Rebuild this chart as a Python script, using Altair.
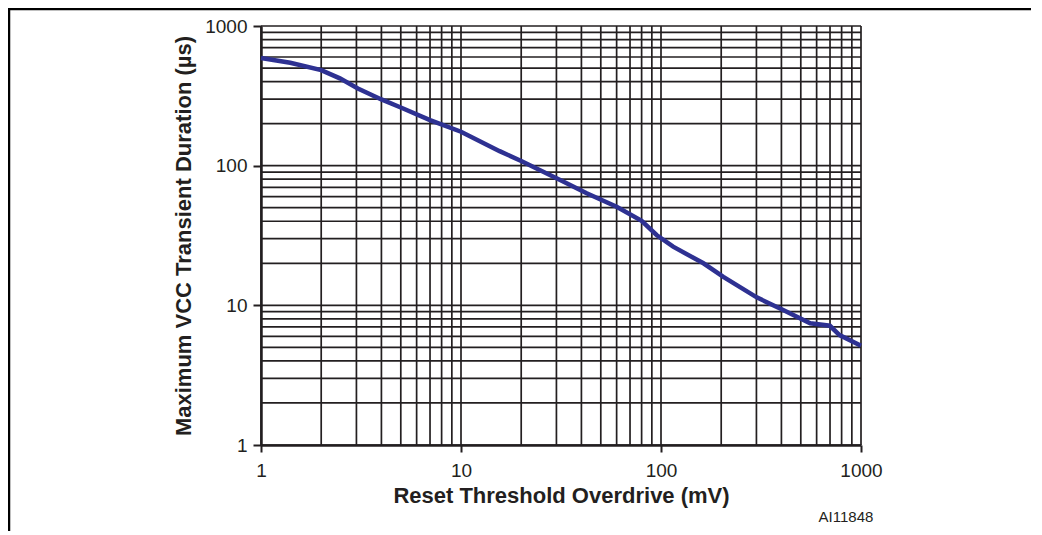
import altair as alt
import pandas as pd

# Curve values (log-log)
overdrive_mv = [1, 1.4, 2, 2.48, 3.05, 4, 5, 7, 10, 15.6, 20, 31.3, 42.5, 60, 80,
                95, 115, 163, 205, 301, 394, 557, 699, 781, 1000]
duration_us = [590, 545, 483, 422, 357, 298, 261, 212, 175, 127, 108, 79, 63.4, 50.8,
               40.3, 31.9, 26.3, 20.0, 16.0, 11.4, 9.5, 7.43, 7.14, 6.13, 5.14]

# Grid positions (1..9 per decade) and labelled ticks
grid_values = [m * d for d in [1, 10, 100] for m in range(1, 10)] + [1000]
x_tick_values = [1, 10, 100, 1000]
y_tick_values = [1, 10, 100, 1000]

df = pd.DataFrame({"x": overdrive_mv, "y": duration_us})
grid = pd.DataFrame({"g": grid_values})
one = pd.DataFrame({"a": [0]})

INK = "#231f20"
FONT = "Liberation Sans"
W, H = 600, 419

xs = alt.Scale(type="log", domain=[1, 1000], nice=False)
ys = alt.Scale(type="log", domain=[1, 1000], nice=False)

x_axis = alt.Axis(values=x_tick_values, format="d", grid=False,
                  title="Reset Threshold Overdrive (mV)",
                  labelFlush=False, labelPadding=9, titlePadding=5,
                  tickSize=7)
y_axis = alt.Axis(values=y_tick_values, format="d", grid=False,
                  title="Maximum VCC Transient Duration (µs)",
                  labelFlush=False, labelPadding=6, titlePadding=9,
                  tickSize=8)

line = alt.Chart(df).mark_line(color="#2e3192", strokeWidth=4.5).encode(
    x=alt.X("x:Q", scale=xs, axis=x_axis),
    y=alt.Y("y:Q", scale=ys, axis=y_axis),
)

vgrid = alt.Chart(grid).mark_rule(color=INK, strokeWidth=1.7).encode(
    x=alt.X("g:Q", scale=xs, axis=x_axis)
)
hgrid = alt.Chart(grid).mark_rule(color=INK, strokeWidth=1.7).encode(
    y=alt.Y("g:Q", scale=ys, axis=y_axis)
)

frame_left = alt.Chart(one).mark_rule(color="black", strokeWidth=2.5).encode(
    x=alt.value(-252), y=alt.value(-18), y2=alt.value(H + 90)
)
frame_top = alt.Chart(one).mark_rule(color="black", strokeWidth=2.5).encode(
    y=alt.value(-17), x=alt.value(-253), x2=alt.value(W + 175)
)

code = alt.Chart(one).mark_text(font=FONT, fontSize=15, color=INK).encode(
    x=alt.value(585), y=alt.value(491), text=alt.value("AI11848")
)

chart = (
    alt.layer(vgrid, hgrid, line, frame_left, frame_top, code)
    .properties(
        width=W, height=H,
        autosize=alt.AutoSizeParams(type="none"),
        padding={"left": 253, "top": 18, "right": 170, "bottom": 86},
    )
    .configure_view(stroke=None)
    .configure_axis(
        labelFont=FONT, labelFontSize=19, labelColor=INK,
        titleFont=FONT, titleFontSize=22, titleFontWeight="bold", titleColor=INK,
        domainColor=INK, domainWidth=2.5, tickColor=INK, tickWidth=2,
    )
)

chart.save("out.html", embed_options={"renderer": "svg", "actions": False})
